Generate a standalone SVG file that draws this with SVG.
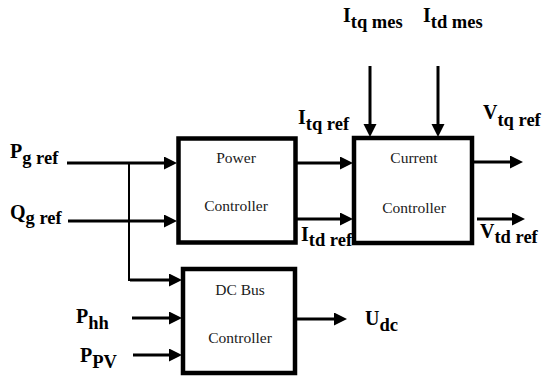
<svg xmlns="http://www.w3.org/2000/svg" width="544" height="381" viewBox="0 0 544 381">
<style>
.box{fill:#fff;stroke:#000;stroke-width:4.5}
.bt{font-family:'Liberation Serif','Times New Roman',serif;font-size:15.5px;fill:#1a1a1a;text-anchor:middle}
.lb{font-family:'Liberation Serif','Times New Roman',serif;font-weight:bold;font-size:20px;fill:#000}
.sb{font-size:18.5px}
.ln{fill:none;stroke:#000;stroke-width:3}
.thin{fill:none;stroke:#000;stroke-width:2}
</style>
<defs>
<marker id="ah" markerUnits="userSpaceOnUse" markerWidth="14" markerHeight="14" refX="5" refY="6.5" orient="auto">
<path d="M0,0 L13,6.5 L0,13 z" fill="#000"/>
</marker>
</defs>
<g id="connectors">
<line class="ln" x1="67" y1="163" x2="169" y2="163" marker-end="url(#ah)"/>
<line class="ln" x1="68" y1="221" x2="169" y2="221" marker-end="url(#ah)"/>
<polyline class="thin" points="129,163 129,280 174,280"/>
<line class="ln" x1="130" y1="280" x2="174" y2="280" marker-end="url(#ah)"/>
<line class="ln" x1="132" y1="318" x2="174" y2="318" marker-end="url(#ah)"/>
<line class="ln" x1="133" y1="355" x2="174" y2="355" marker-end="url(#ah)"/>
<line class="ln" x1="296" y1="163" x2="345" y2="163" marker-end="url(#ah)"/>
<line class="ln" x1="296" y1="219" x2="345" y2="219" marker-end="url(#ah)"/>
<line class="ln" x1="370" y1="66" x2="370" y2="129" marker-end="url(#ah)"/>
<line class="ln" x1="438" y1="66" x2="438" y2="129" marker-end="url(#ah)"/>
<line class="ln" x1="472" y1="162" x2="515" y2="162" marker-end="url(#ah)"/>
<line class="ln" x1="477" y1="219" x2="517" y2="219" marker-end="url(#ah)"/>
<line class="ln" x1="295" y1="319" x2="339" y2="319" marker-end="url(#ah)"/>
</g>
<g id="labels" font-family="Liberation Serif, serif">
<text class="lb" x="343" y="22">I<tspan class="sb" dy="6">tq mes</tspan></text>
<text class="lb" x="423" y="22">I<tspan class="sb" dy="6">td mes</tspan></text>
<text class="lb" x="298" y="124">I<tspan class="sb" dy="6">tq ref</tspan></text>
<text class="lb" x="483" y="119">V<tspan class="sb" dy="7">tq ref</tspan></text>
<text class="lb" x="10" y="158">P<tspan class="sb" dy="6">g ref</tspan></text>
<text class="lb" x="10" y="219">Q<tspan class="sb" dy="5">g ref</tspan></text>
<text class="lb" x="301" y="241">I<tspan class="sb" dy="5">td ref</tspan></text>
<text class="lb" x="480" y="238">V<tspan class="sb" dy="5">td ref</tspan></text>
<text class="lb" x="76" y="323">P<tspan class="sb" dy="6">hh</tspan></text>
<text class="lb" x="80" y="362">P<tspan class="sb" dy="6">PV</tspan></text>
<text class="lb" x="365" y="325">U<tspan class="sb" dy="6">dc</tspan></text>
</g>
<g id="power" font-family="Liberation Serif, serif">
<rect class="box" x="178.5" y="138.5" width="117" height="104"/>
<text class="bt" x="236" y="163">Power</text>
<text class="bt" x="236" y="211">Controller</text>
</g>
<g id="current" font-family="Liberation Serif, serif">
<rect class="box" x="354" y="138" width="118" height="105"/>
<text class="bt" x="414" y="163">Current</text>
<text class="bt" x="414" y="213">Controller</text>
</g>
<g id="dcbus" font-family="Liberation Serif, serif">
<rect class="box" x="183" y="269" width="112" height="104"/>
<text class="bt" x="240" y="295">DC Bus</text>
<text class="bt" x="240" y="343">Controller</text>
</g>
</svg>
